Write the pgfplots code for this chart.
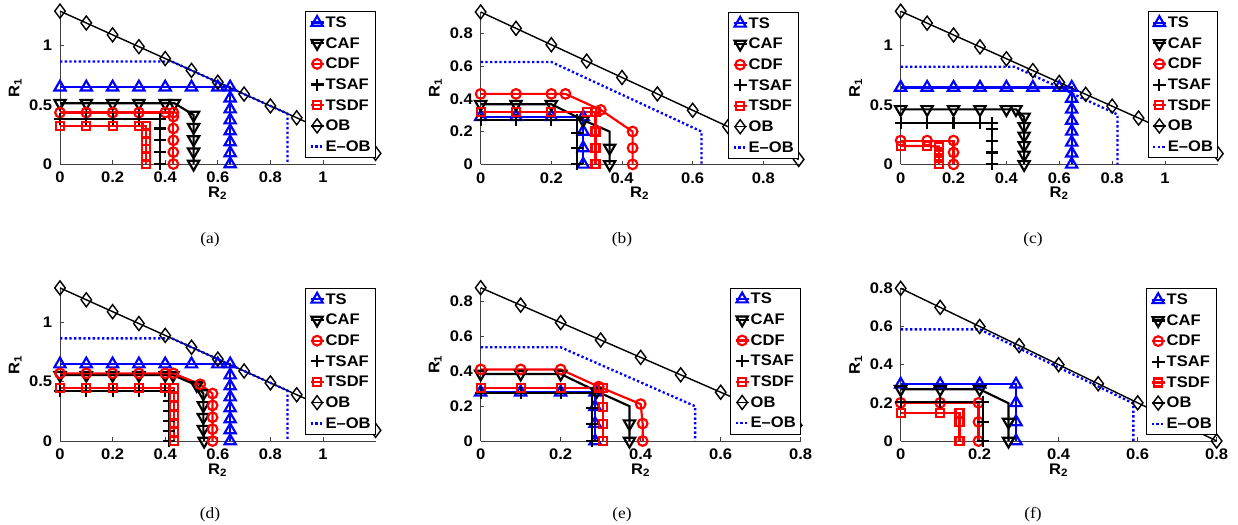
\documentclass[border=0pt]{standalone}
\usepackage{fontspec}
\setmainfont[FakeStretch=1.08]{Liberation Sans}
\newfontfamily\capfont[FakeStretch=1.1]{Liberation Serif}
\usepackage{pgfplots}
\pgfplotsset{compat=1.18}

\newcommand{\tfont}{\fontsize{9.2}{11}\selectfont\bfseries}

% series styles (MATLAB look)
\tikzset{
  ts/.style={blue, line width=1.3pt, mark=triangle, mark size=3.9pt},
  caf/.style={black, line width=1.3pt, mark=triangle, mark size=3.9pt, mark options={rotate=180}},
  cdf/.style={red, line width=1.3pt, mark=o, mark size=2.9pt},
  tsaf/.style={black, line width=1.3pt, mark=+, mark size=3.6pt},
  tsdf/.style={red, line width=1.3pt, mark=square, mark size=2.4pt},
  ob/.style={black, line width=0.85pt, mark=diamond, mark size=4.2pt},
  eob/.style={blue, line width=1.4pt, dash pattern=on 1.4pt off 1.4pt},
}

\pgfplotsset{
  rr/.style={
    anchor=south west, clip=false, enlargelimits=false,
    xmin=0, ymin=0,
    axis x line*=bottom, axis y line*=left,
    axis line style={black!75, line width=0.5pt},
    tick align=inside, major tick length=2.2pt,
    tick style={black!75, line width=0.4pt},
    /pgf/number format/assume math mode=true,
    ticklabel style={font=\tfont},
    xticklabel style={yshift=-1.4pt},
    yticklabel style={xshift=-1.2pt},
    label style={font=\tfont},
    xlabel={R\textsubscript{2}}, ylabel={R\textsubscript{1}},
    xlabel style={at={(axis description cs:0.5,-0.19)}, anchor=center},
    ylabel style={at={(axis description cs:-0.142,0.5)}, anchor=center},
    legend cell align=left,
    legend style={at={(1,1)}, anchor=north east, draw=black, line width=0.5pt,
      fill=white, font=\tfont, inner xsep=2.2pt, inner ysep=2.2pt, row sep=3.6pt,
      nodes={inner sep=0.5pt, text height=6.8pt, text depth=1pt}},
    legend image code/.code={\draw[mark repeat=2, mark phase=2, #1] plot coordinates {(0pt,0pt) (3.9pt,0pt) (7.8pt,0pt)};},
  },
  big/.style={rr, x=157.8pt, y=71.1pt, xmax=1.2, ymax=1.29,
    xtick={0,0.2,0.4,0.6,0.8,1}, ytick={0,0.5,1}},
  small/.style={rr, xtick={0,0.2,0.4,0.6,0.8}, ytick={0,0.2,0.4,0.6,0.8}},
}

\begin{document}
\begin{tikzpicture}
\path[use as bounding box] (0,0) rectangle (742.8pt,314.4pt);

% ---------------- (a)
\begin{axis}[big, at={(36pt,216pt)}]
\addplot[ts] coordinates {(0,0.648)(0.1,0.648)(0.2,0.648)(0.3,0.648)(0.4,0.648)(0.5,0.648)(0.6,0.648)(0.647,0.648)(0.647,0.555)(0.647,0.463)(0.647,0.37)(0.647,0.278)(0.647,0.185)(0.647,0.093)(0.647,0)};
\addplot[caf] coordinates {(0,0.513)(0.1,0.513)(0.2,0.513)(0.3,0.513)(0.4,0.513)(0.435,0.513)(0.508,0.414)(0.508,0.31)(0.508,0.207)(0.508,0.103)(0.508,0)};
\addplot[cdf] coordinates {(0,0.434)(0.1,0.434)(0.2,0.434)(0.3,0.434)(0.4,0.434)(0.431,0.434)(0.431,0.4)(0.431,0.3)(0.431,0.2)(0.431,0.1)(0.431,0)};
\addplot[tsaf] coordinates {(0,0.38)(0.1,0.38)(0.2,0.38)(0.3,0.38)(0.381,0.38)(0.381,0.3)(0.381,0.2)(0.381,0.1)(0.381,0)};
\addplot[tsdf] coordinates {(0,0.321)(0.1,0.321)(0.2,0.321)(0.3,0.321)(0.326,0.321)(0.326,0.257)(0.326,0.193)(0.326,0.128)(0.326,0.064)(0.326,0)};
\addplot[ob] coordinates {(0,1.29)(0.1,1.19)(0.2,1.09)(0.3,0.99)(0.4,0.89)(0.5,0.79)(0.6,0.69)(0.7,0.59)(0.8,0.49)(0.9,0.39)(1.0,0.29)(1.1,0.19)(1.2,0.09)};
\addplot[eob] coordinates {(0,0.865)(0.425,0.865)(0.865,0.425)(0.865,0)};
\legend{TS,CAF,CDF,TSAF,TSDF,OB,E--OB}
\end{axis}

% ---------------- (b)
\begin{axis}[small, at={(288.4pt,215.8pt)}, x=212pt, y=98.3pt, xmax=0.9, ymax=0.93]
\addplot[ts] coordinates {(0,0.29)(0.1,0.29)(0.2,0.29)(0.29,0.29)(0.29,0.2)(0.29,0.1)(0.29,0)};
\addlegendimage{caf}
\addplot[caf, no markers, forget plot] coordinates {(0,0.367)(0.1,0.367)(0.2,0.367)(0.29,0.27)(0.365,0.2)(0.365,0.1)(0.365,0)};
\addplot[caf, only marks, forget plot] coordinates {(0,0.367)(0.1,0.367)(0.2,0.367)(0.29,0.27)(0.365,0.1)(0.365,0)};
\addplot[cdf] coordinates {(0,0.43)(0.1,0.43)(0.2,0.43)(0.24,0.43)(0.34,0.332)(0.43,0.2)(0.43,0.1)(0.43,0)};
\addplot[tsaf] coordinates {(0,0.272)(0.1,0.272)(0.2,0.272)(0.272,0.272)(0.272,0.19)(0.272,0.1)(0.272,0)};
\addplot[tsdf] coordinates {(0,0.32)(0.1,0.32)(0.2,0.32)(0.3,0.32)(0.325,0.32)(0.325,0.2)(0.325,0.1)(0.325,0)};
\addplot[ob] coordinates {(0,0.93)(0.1,0.83)(0.2,0.73)(0.3,0.63)(0.4,0.53)(0.5,0.43)(0.6,0.33)(0.7,0.23)(0.8,0.13)(0.9,0.03)};
\addplot[eob] coordinates {(0,0.625)(0.2,0.625)(0.625,0.2)(0.625,0)};
\legend{TS,CAF,CDF,TSAF,TSDF,OB,E--OB}
\end{axis}

% ---------------- (c)
\begin{axis}[big, at={(540.4pt,215.8pt)}, x=158.6pt, y=71.2pt]
\addplot[ts] coordinates {(0,0.648)(0.1,0.648)(0.2,0.648)(0.3,0.648)(0.4,0.648)(0.5,0.648)(0.6,0.648)(0.647,0.648)(0.647,0.555)(0.647,0.463)(0.647,0.37)(0.647,0.278)(0.647,0.185)(0.647,0.093)(0.647,0)};
\addplot[caf] coordinates {(0,0.463)(0.1,0.463)(0.2,0.463)(0.3,0.463)(0.4,0.463)(0.436,0.463)(0.467,0.4)(0.467,0.32)(0.467,0.24)(0.467,0.16)(0.467,0.08)(0.467,0)};
\addplot[cdf] coordinates {(0,0.2)(0.1,0.2)(0.2,0.2)(0.2,0.1)(0.2,0)};
\addplot[tsaf] coordinates {(0,0.35)(0.1,0.35)(0.2,0.35)(0.3,0.35)(0.345,0.35)(0.345,0.3)(0.345,0.2)(0.345,0.1)(0.345,0)};
\addplot[tsdf] coordinates {(0,0.155)(0.1,0.155)(0.145,0.15)(0.145,0.1)(0.145,0.05)(0.145,0)};
\addplot[ob] coordinates {(0,1.29)(0.1,1.19)(0.2,1.09)(0.3,0.99)(0.4,0.89)(0.5,0.79)(0.6,0.69)(0.7,0.59)(0.8,0.49)(0.9,0.39)(1.0,0.29)(1.1,0.19)(1.2,0.09)};
\addplot[eob] coordinates {(0,0.823)(0.43,0.823)(0.82,0.42)(0.82,0)};
\legend{TS,CAF,CDF,TSAF,TSDF,OB,E--OB}
\end{axis}

% ---------------- (d)
\begin{axis}[big, at={(36pt,49.8pt)}, y=71.2pt]
\addplot[ts] coordinates {(0,0.648)(0.1,0.648)(0.2,0.648)(0.3,0.648)(0.4,0.648)(0.5,0.648)(0.6,0.648)(0.647,0.648)(0.647,0.555)(0.647,0.463)(0.647,0.37)(0.647,0.278)(0.647,0.185)(0.647,0.093)(0.647,0)};
\addplot[caf] coordinates {(0,0.555)(0.1,0.555)(0.2,0.555)(0.3,0.555)(0.4,0.555)(0.43,0.555)(0.52,0.47)(0.545,0.4)(0.545,0.3)(0.545,0.2)(0.545,0.1)(0.548,0)};
\addplot[cdf] coordinates {(0,0.57)(0.1,0.57)(0.2,0.57)(0.3,0.57)(0.4,0.57)(0.431,0.57)(0.533,0.478)(0.58,0.4)(0.58,0.3)(0.58,0.2)(0.58,0.1)(0.58,0)};
\addplot[tsaf] coordinates {(0,0.42)(0.1,0.42)(0.2,0.42)(0.3,0.42)(0.4,0.42)(0.416,0.42)(0.416,0.336)(0.416,0.252)(0.416,0.168)(0.416,0.084)(0.416,0)};
\addplot[tsdf] coordinates {(0,0.444)(0.1,0.444)(0.2,0.444)(0.3,0.444)(0.4,0.444)(0.434,0.444)(0.434,0.37)(0.434,0.296)(0.434,0.222)(0.434,0.148)(0.434,0.074)(0.434,0)};
\addplot[ob] coordinates {(0,1.29)(0.1,1.19)(0.2,1.09)(0.3,0.99)(0.4,0.89)(0.5,0.79)(0.6,0.69)(0.7,0.59)(0.8,0.49)(0.9,0.39)(1.0,0.29)(1.1,0.19)(1.2,0.09)};
\addplot[eob] coordinates {(0,0.865)(0.425,0.865)(0.865,0.425)(0.865,0)};
\legend{TS,CAF,CDF,TSAF,TSDF,OB,E--OB}
\end{axis}

% ---------------- (e)
\begin{axis}[small, at={(288.4pt,49.8pt)}, x=240pt, y=104.5pt, xmax=0.8, ymax=0.88]
\addplot[ts] coordinates {(0,0.28)(0.1,0.28)(0.2,0.28)(0.286,0.28)(0.286,0.197)(0.286,0.1)(0.286,0)};
\addlegendimage{caf}
\addplot[caf, no markers, forget plot] coordinates {(0,0.385)(0.1,0.385)(0.2,0.385)(0.29,0.285)(0.372,0.2)(0.372,0.1)(0.372,0)};
\addplot[caf, only marks, forget plot] coordinates {(0,0.385)(0.1,0.385)(0.2,0.385)(0.29,0.285)(0.372,0.1)(0.372,0)};
\addplot[cdf] coordinates {(0,0.411)(0.1,0.411)(0.2,0.411)(0.295,0.312)(0.4,0.212)(0.405,0.1)(0.405,0)};
\addplot[tsaf] coordinates {(0,0.278)(0.1,0.278)(0.2,0.278)(0.278,0.278)(0.278,0.19)(0.278,0.1)(0.278,0)};
\addplot[tsdf] coordinates {(0,0.302)(0.1,0.302)(0.2,0.302)(0.295,0.302)(0.305,0.302)(0.305,0.197)(0.305,0.1)(0.305,0)};
\addplot[ob] coordinates {(0,0.88)(0.1,0.78)(0.2,0.68)(0.3,0.58)(0.4,0.48)(0.5,0.38)(0.6,0.28)(0.7,0.18)(0.79,0.09)};
\addplot[eob] coordinates {(0,0.538)(0.2,0.538)(0.536,0.2)(0.536,0)};
\legend{TS,CAF,CDF,TSAF,TSDF,OB,E--OB}
\end{axis}

% ---------------- (f)
\begin{axis}[small, at={(540.4pt,49.8pt)}, x=237pt, y=114.5pt, xmax=0.8, ymax=0.8]
\addplot[ts] coordinates {(0,0.297)(0.1,0.297)(0.2,0.297)(0.292,0.297)(0.292,0.2)(0.292,0.1)(0.292,0)};
\addlegendimage{caf}
\addplot[caf, no markers, forget plot] coordinates {(0,0.271)(0.1,0.271)(0.2,0.271)(0.273,0.198)(0.273,0.1)(0.273,0)};
\addplot[caf, only marks, forget plot] coordinates {(0,0.271)(0.1,0.271)(0.2,0.271)(0.273,0.1)(0.273,0)};
\addplot[cdf] coordinates {(0,0.2)(0.1,0.2)(0.197,0.2)(0.197,0.1)(0.197,0)};
\addplot[tsaf] coordinates {(0,0.206)(0.1,0.206)(0.208,0.206)(0.208,0.1)(0.208,0)};
\addplot[tsdf] coordinates {(0,0.145)(0.1,0.145)(0.149,0.145)(0.149,0.1)(0.149,0)};
\addplot[ob] coordinates {(0,0.8)(0.1,0.7)(0.2,0.6)(0.3,0.5)(0.4,0.4)(0.5,0.3)(0.6,0.2)(0.7,0.1)(0.8,0)};
\addplot[eob] coordinates {(0,0.585)(0.2,0.585)(0.589,0.197)(0.589,0)};
\legend{TS,CAF,CDF,TSAF,TSDF,OB,E--OB}
\end{axis}

% sub-figure captions
\begin{scope}[every node/.style={font=\capfont\fontsize{9.5}{11}\selectfont}]
\node at (126pt,170.4pt) {(a)};
\node at (373.2pt,170.4pt) {(b)};
\node at (619.8pt,170.4pt) {(c)};
\node at (126pt,5.5pt) {(d)};
\node at (373.2pt,5.5pt) {(e)};
\node at (619.8pt,5.5pt) {(f)};
\end{scope}
\end{tikzpicture}
\end{document}
